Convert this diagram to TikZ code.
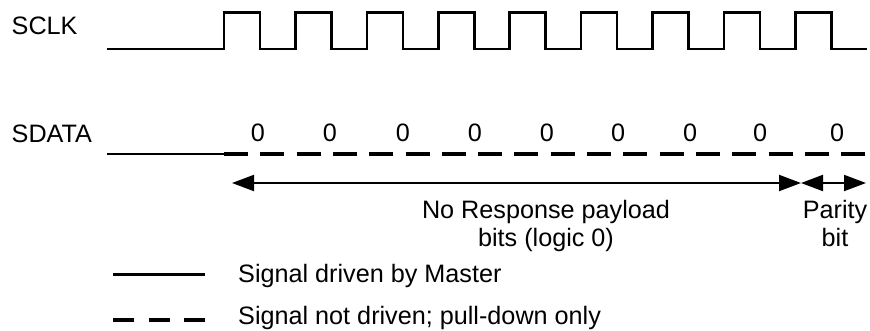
\documentclass[tikz,border=0pt]{standalone}
\usepackage{fontspec}
\setmainfont{Liberation Sans}
\usetikzlibrary{arrows.meta}
\begin{document}
\begin{tikzpicture}[x=1pt,y=-1pt,
  lbl/.style={inner sep=0pt, font=\fontsize{25.2}{27.5}\selectfont},
  clk/.style={line width=2.6pt, line join=miter},
  driven/.style={line width=2.3pt},
  undriven/.style={line width=4pt, dash pattern=on 24pt off 12.3pt},
  keydriven/.style={line width=3pt},
  keyundriven/.style={line width=4pt, dash pattern=on 21pt off 14.5pt},
  span/.style={line width=2pt,
    {Triangle[length=22pt,width=16pt]}-{Triangle[length=22pt,width=16pt]}},
]
\useasboundingbox (0,0) rectangle (870,330);

% signal names
\node[lbl, anchor=base west] (sclk) at (11.5,34) {SCLK};
\node[lbl, anchor=base west] (sdata) at (11.5,142) {SDATA};

% serial clock: idle low, then nine pulses
\draw[clk] (107,49) -- (224,49)
  \foreach \i in {0,...,8} {
    -- ({224+71.4*\i},49) -- ({224+71.4*\i},12.7)
    -- ({260+71.4*\i},12.7) -- ({260+71.4*\i},49) }
  -- (867,49);

% data line: driven, then released (pull-down only)
\draw[driven] (107,154) -- (226,154);
\draw[undriven] (224,154) -- (865,154);

% bit values
\foreach \x [count=\k] in {258,330,403,475,547,618,690,760,837}
  \node[lbl, anchor=base] (b\k) at (\x,141) {0};

% extents of the payload and parity fields
\coordinate (payL) at (232,183);
\coordinate (payR) at (801,183);
\coordinate (parR) at (866,183);
\draw[span] (payL) -- (payR);
\draw[span] (payR) -- (parR);

% the base anchor of a two-line label sits on its last line
\node[lbl, anchor=base, align=center] (payload) at (546,246)
  {No Response payload\\bits (logic 0)};
\node[lbl, anchor=base, align=center] (parity) at (835,246)
  {Parity\\bit};

% key
\coordinate (k1a) at (113,274);
\coordinate (k1b) at (205,274);
\coordinate (k2a) at (113,320);
\coordinate (k2b) at (205,320);
\draw[keydriven] (k1a) -- (k1b);
\draw[keyundriven] (k2a) -- (k2b);
\node[lbl, anchor=base west] (key1) at (238,282) {Signal driven by Master};
\node[lbl, anchor=base west] (key2) at (238,324) {Signal not driven; pull-down only};
\end{tikzpicture}
\end{document}
